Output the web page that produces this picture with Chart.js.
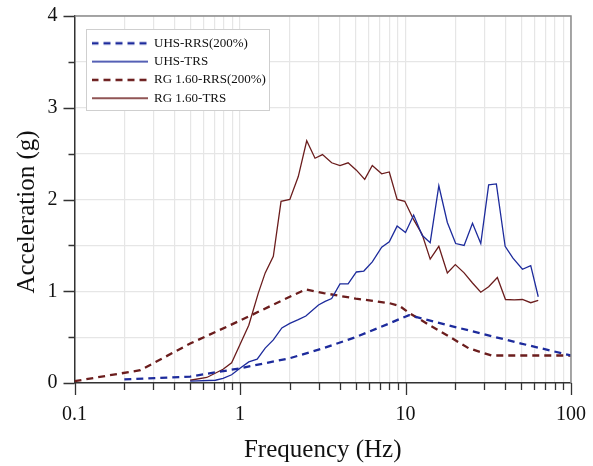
<!DOCTYPE html>
<html>
<head>
<meta charset="utf-8">
<script src="https://cdn.jsdelivr.net/npm/chart.js@4/dist/chart.umd.min.js"></script>
<style>
  html, body { margin: 0; padding: 0; background: #fff; }
  #wrap { width: 593px; height: 466px; }
</style>
</head>
<body>
<div id="wrap"><canvas id="chart" width="593" height="466"></canvas></div>
<script>
// UHS-RRS(200%)
const uhsRrsFreq = [0.2, 0.5, 1, 2, 3.2, 5, 8, 10.5, 20, 50, 100];
const uhsRrsAcc  = [0.04, 0.07, 0.16, 0.27, 0.38, 0.50, 0.65, 0.74, 0.61, 0.43, 0.30];

// UHS-TRS
const uhsTrsFreq = [0.5, 0.71, 0.79, 0.89, 1.0, 1.13, 1.27, 1.42, 1.59, 1.79, 2.0, 2.25, 2.5, 2.98, 3.27, 3.58,
  4.02, 4.5, 5.05, 5.6, 6.3, 7.18, 7.98, 8.9, 10.0, 11.2, 12.6, 14.1, 15.9, 17.9, 20.1, 22.6, 25.4, 28.5,
  31.8, 35.4, 40, 44.6, 50.9, 57.1, 63.4];
const uhsTrsAcc = [0.02, 0.03, 0.05, 0.09, 0.16, 0.23, 0.26, 0.38, 0.47, 0.60, 0.65, 0.69, 0.73, 0.85, 0.89, 0.92,
  1.08, 1.08, 1.21, 1.22, 1.32, 1.48, 1.54, 1.71, 1.64, 1.83, 1.61, 1.53, 2.15, 1.75, 1.52, 1.50, 1.74, 1.52,
  2.16, 2.17, 1.49, 1.36, 1.24, 1.28, 0.94];

// RG 1.60-RRS(200%)
const rgRrsFreq = [0.1, 0.25, 0.5, 1, 2, 2.5, 3.2, 5, 8, 9.2, 10.6, 14, 19, 24, 33, 100];
const rgRrsAcc  = [0.02, 0.14, 0.43, 0.68, 0.94, 1.02, 0.98, 0.92, 0.87, 0.84, 0.76, 0.63, 0.49, 0.38, 0.30, 0.30];

// RG 1.60-TRS
const rgTrsFreq = [0.5, 0.63, 0.79, 0.89, 1.0, 1.13, 1.29, 1.42, 1.59, 1.77, 2.0, 2.25, 2.53, 2.84, 3.15, 3.58,
  4.02, 4.5, 5.05, 5.67, 6.3, 7.18, 7.98, 8.9, 9.9, 11.2, 12.6, 14.1, 15.9, 17.9, 20.0, 22.6, 25.4, 28.5,
  31.8, 35.9, 40.2, 45.4, 50.9, 57.1, 63.4];
const rgTrsAcc = [0.03, 0.06, 0.15, 0.22, 0.42, 0.63, 0.98, 1.20, 1.38, 1.98, 2.00, 2.25, 2.64, 2.45, 2.49, 2.40,
  2.37, 2.40, 2.32, 2.22, 2.37, 2.28, 2.30, 2.00, 1.98, 1.78, 1.62, 1.35, 1.49, 1.20, 1.29, 1.20, 1.09, 0.99,
  1.05, 1.15, 0.91, 0.905, 0.91, 0.875, 0.90];

const xLabelValues = [0.1, 1, 10, 100];
const xTickLabels = ['0.1', '1', '10', '100'];
const yTickLabels = [0, 1, 2, 3, 4];
const yTitle = 'Acceleration (g)';

const BLUE = '#1d2b9c';
const RED = '#6b1d1d';
const SERIF = '"Liberation Serif", "Times New Roman", serif';
const DASH = [7, 5];

Chart.defaults.font.family = SERIF;
Chart.defaults.color = '#111';

const toPoints = (xs, ys) => xs.map((x, i) => ({ x: x, y: ys[i] }));

// all log ticks 0.1, 0.2 ... 90, 100
const xTickValues = [];
for (let e = -1; e <= 1; e++) {
    for (let k = 1; k <= 9; k++) xTickValues.push(Number((k * Math.pow(10, e)).toPrecision(3)));
}
xTickValues.push(100);

const isDecade = (v) => Math.abs(Math.log10(v) - Math.round(Math.log10(v))) < 1e-6;

// small line sample used as legend point style (keeps dashes)
function lineSample(color, width, dash) {
    const c = document.createElement("canvas");
    c.width = 56;
    c.height = 6;
    const g = c.getContext("2d");
    g.strokeStyle = color;
    g.lineWidth = width;
    g.setLineDash(dash || []);
    g.beginPath();
    g.moveTo(0, 3);
    g.lineTo(56, 3);
    g.stroke();
    return c;
}

const samples = [
    lineSample(BLUE, 2.3, DASH),
    lineSample(BLUE, 1.3),
    lineSample(RED, 2.3, DASH),
    lineSample(RED, 1.3)
];

const legendBox = { x: 86, y: 29, w: 183, h: 81 };

const decor = {
    id: "decor",
    afterLayout(chart) {
        const lg = chart.legend;
        if (!lg) return;
        lg.left = 86.2;
        lg.top = 31.5;
    },
    beforeDatasetsDraw(chart) {
        const ctx = chart.ctx;
        ctx.save();
        ctx.fillStyle = "#ffffff";
        ctx.fillRect(legendBox.x, legendBox.y, legendBox.w, legendBox.h);
        ctx.strokeStyle = "#cfcfcf";
        ctx.lineWidth = 1;
        ctx.strokeRect(legendBox.x + 0.5, legendBox.y + 0.5, legendBox.w, legendBox.h);
        ctx.restore();
        chart.legend.draw();
    },
    afterDraw(chart) {
        const ctx = chart.ctx;
        const { left, right, top, bottom } = chart.chartArea;
        const xs = chart.scales.x;
        const ys = chart.scales.y;
        ctx.save();
        // top / right frame
        ctx.strokeStyle = "#8c8c8c";
        ctx.lineWidth = 1.5;
        ctx.beginPath();
        ctx.moveTo(left, top);
        ctx.lineTo(right, top);
        ctx.lineTo(right, bottom);
        ctx.stroke();
        // tick marks outside
        ctx.strokeStyle = "#333";
        ctx.lineWidth = 1.3;
        ctx.beginPath();
        xs.ticks.forEach(t => {
            const px = Math.round(xs.getPixelForValue(t.value)) + 0.5;
            const len = isDecade(t.value) ? 12 : 7;
            ctx.moveTo(px, bottom);
            ctx.lineTo(px, bottom + len);
        });
        ys.ticks.forEach(t => {
            const py = Math.round(ys.getPixelForValue(t.value)) + 0.5;
            const len = Number.isInteger(t.value) ? 11 : 6;
            ctx.moveTo(left, py);
            ctx.lineTo(left - len, py);
        });
        ctx.stroke();
        // y title, sits a bit below the axis middle in the original
        ctx.translate(27, (top + bottom) / 2 + 12.5);
        ctx.rotate(-Math.PI / 2);
        ctx.fillStyle = "#111";
        ctx.font = "25px " + SERIF;
        ctx.textAlign = "center";
        ctx.textBaseline = "middle";
        ctx.fillText(yTitle, 0, 0);
        ctx.restore();
    }
};

new Chart(document.getElementById("chart"), {
    type: "line",
    data: {
        datasets: [
            {
                label: "UHS-RRS(200%)",
                data: toPoints(uhsRrsFreq, uhsRrsAcc),
                borderColor: BLUE,
                backgroundColor: BLUE,
                borderWidth: 2.3,
                borderDash: DASH
            },
            {
                label: "UHS-TRS",
                data: toPoints(uhsTrsFreq, uhsTrsAcc),
                borderColor: BLUE,
                backgroundColor: BLUE,
                borderWidth: 1.3
            },
            {
                label: "RG 1.60-RRS(200%)",
                data: toPoints(rgRrsFreq, rgRrsAcc),
                borderColor: RED,
                backgroundColor: RED,
                borderWidth: 2.3,
                borderDash: DASH
            },
            {
                label: "RG 1.60-TRS",
                data: toPoints(rgTrsFreq, rgTrsAcc),
                borderColor: RED,
                backgroundColor: RED,
                borderWidth: 1.3
            }
        ]
    },
    options: {
        responsive: false,
        animation: false,
        devicePixelRatio: 1,
        layout: { padding: { left: 0, right: 22, top: 16, bottom: 0 } },
        elements: {
            point: { radius: 0, hoverRadius: 0 },
            line: { tension: 0, fill: false }
        },
        scales: {
            x: {
                type: "logarithmic",
                min: 0.1,
                max: 100,
                afterBuildTicks: (scale) => {
                    scale.ticks = xTickValues.map(v => ({ value: v }));
                },
                afterFit: (scale) => {
                    scale.height = 83;
                    scale.paddingLeft = 0;
                    scale.paddingRight = 0;
                },
                ticks: {
                    autoSkip: false,
                    maxRotation: 0,
                    padding: 20,
                    color: "#111",
                    font: { size: 20 },
                    callback: (v) => {
                        const i = xLabelValues.findIndex(d => Math.abs(d - v) < 1e-9);
                        return i >= 0 ? xTickLabels[i] : "";
                    }
                },
                grid: { color: "#e6e6e6", lineWidth: 1.2, drawTicks: false },
                border: { color: "#333", width: 1.5 },
                title: {
                    display: true,
                    text: "Frequency (Hz)",
                    color: "#111",
                    font: { size: 25 },
                    padding: { top: 0, bottom: 1 }
                }
            },
            y: {
                type: "linear",
                min: 0,
                max: 4,
                afterFit: (scale) => {
                    scale.width = 74.5;
                    scale.paddingTop = 0;
                    scale.paddingBottom = 0;
                },
                ticks: {
                    stepSize: 0.5,
                    padding: 17,
                    color: "#111",
                    font: { size: 20 },
                    callback: (v) => yTickLabels.includes(v) ? String(v) : ""
                },
                grid: { color: "#e6e6e6", lineWidth: 1.2, drawTicks: false },
                border: { color: "#333", width: 1.5 },
                title: { display: false }
            }
        },
        plugins: {
            legend: {
                position: "chartArea",
                align: "start",
                labels: {
                    usePointStyle: true,
                    pointStyleWidth: 56,
                    boxHeight: 13,
                    padding: 5.3,
                    color: "#111",
                    font: { size: 13 },
                    generateLabels: (chart) =>
                        Chart.defaults.plugins.legend.labels.generateLabels(chart)
                            .map((item, i) => Object.assign(item, { pointStyle: samples[i] }))
                }
            },
            tooltip: { enabled: false }
        }
    },
    plugins: [decor]
});
</script>
</body>
</html>
